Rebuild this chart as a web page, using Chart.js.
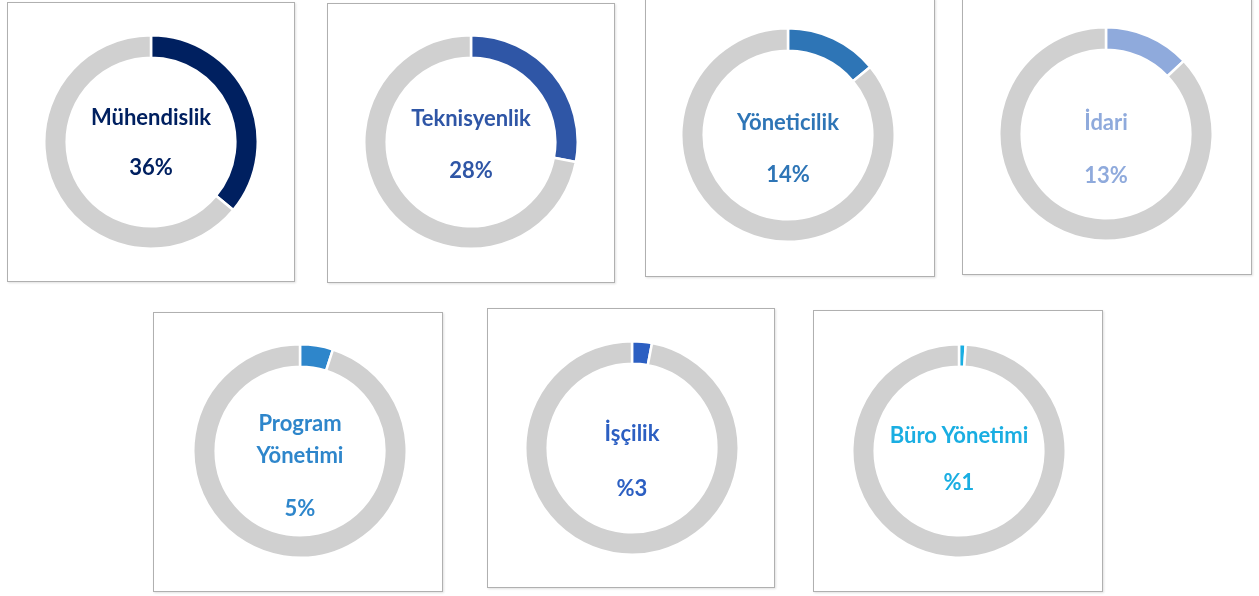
<!DOCTYPE html>
<html>
<head>
<meta charset="utf-8">
<script src="https://cdn.jsdelivr.net/npm/chart.js@4"></script>
<style>
  body { margin: 0; background: #fff; width: 1259px; height: 596px; position: relative; overflow: hidden; font-family: Lato, "Open Sans", sans-serif; }
  .box { position: absolute; border: 1.5px solid #b0b0b0; background: #fff; box-sizing: border-box; box-shadow: 1px 1px 2px rgba(0,0,0,0.12); }
  .ring { position: absolute; width: 216px; height: 216px; }
  .txt { position: absolute; width: 200px; height: 30px; line-height: 30px; text-align: center; font-weight: bold; font-size: 22px; }
</style>
</head>
<body>
<script>
const categories = ['Mühendislik', 'Teknisyenlik', 'Yöneticilik', 'İdari', 'Program Yönetimi', 'İşçilik', 'Büro Yönetimi'];
const shares = [36, 28, 14, 13, 5, 3, 1];
const shareLabels = ['36%', '28%', '14%', '13%', '5%', '%3', '%1'];
const colors = ['#002060', '#2f56a6', '#2e75b6', '#8faadc', '#2e86cb', '#2c5fc2', '#1aaee2'];
const rest = '#d0d0d0';

// box frame [left, top, right, bottom], ring centre [x, y], text line centres (y)
const layout = [
    { box: [7, 2, 295, 282], c: [151, 142], lines: [117, 167] },
    { box: [327, 3, 615, 283], c: [471, 142], lines: [118, 170] },
    { box: [645, -2, 935, 277], c: [788, 135], lines: [122, 174] },
    { box: [962, -2, 1252, 275], c: [1106, 134], lines: [122, 175] },
    { box: [153, 312, 443, 592], c: [300, 451], lines: [423, 455, 508] },
    { box: [487, 308, 775, 588], c: [632, 448], lines: [433, 488] },
    { box: [813, 310, 1103, 592], c: [959, 451], lines: [435, 482] }
];

function addText(str, x, y, color) {
    const el = document.createElement('div');
    el.className = 'txt';
    el.textContent = str;
    el.style.color = color;
    el.style.left = (x - 100) + 'px';
    el.style.top = (y - 15) + 'px';
    document.body.appendChild(el);
}

categories.forEach((name, i) => {
    const l = layout[i];
    const box = document.createElement('div');
    box.className = 'box';
    box.style.left = l.box[0] + 'px';
    box.style.top = l.box[1] + 'px';
    box.style.width = (l.box[2] - l.box[0]) + 'px';
    box.style.height = (l.box[3] - l.box[1]) + 'px';
    document.body.appendChild(box);

    const wrap = document.createElement('div');
    wrap.className = 'ring';
    wrap.style.left = (l.c[0] - 108) + 'px';
    wrap.style.top = (l.c[1] - 108) + 'px';
    const canvas = document.createElement('canvas');
    wrap.appendChild(canvas);
    document.body.appendChild(wrap);

    new Chart(canvas, {
        type: 'doughnut',
        data: {
            labels: [name, ''],
            datasets: [{
                data: [shares[i], 100 - shares[i]],
                backgroundColor: [colors[i], rest],
                borderColor: '#ffffff',
                borderWidth: 2.5
            }]
        },
        options: {
            responsive: true,
            maintainAspectRatio: false,
            animation: false,
            cutout: '79%',
            plugins: { legend: { display: false }, tooltip: { enabled: false } }
        }
    });

    const words = name === 'Program Yönetimi' ? ['Program', 'Yönetimi'] : [name];
    words.forEach((w, k) => addText(w, l.c[0], l.lines[k], colors[i]));
    addText(shareLabels[i], l.c[0], l.lines[words.length], colors[i]);
});
</script>
</body>
</html>
